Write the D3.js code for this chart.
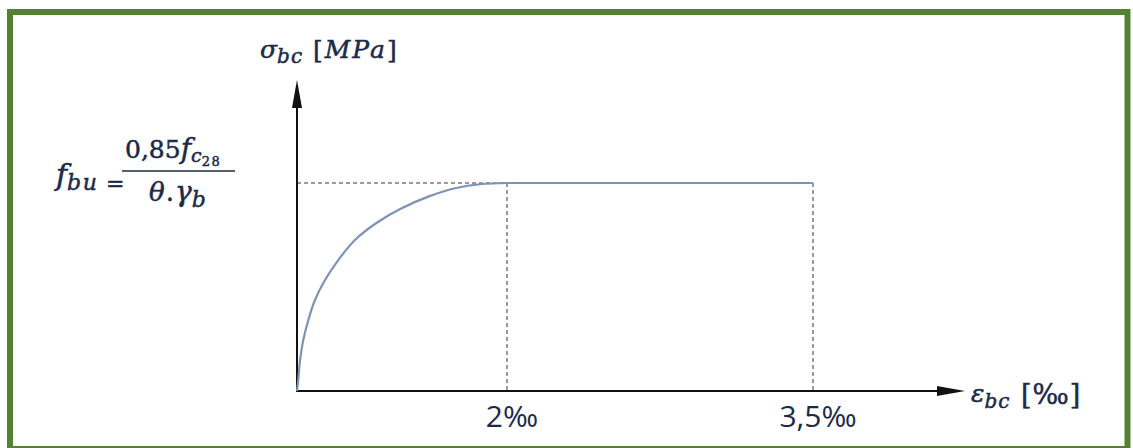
<!DOCTYPE html>
<html>
<head>
<meta charset="utf-8">
<script src="https://cdn.jsdelivr.net/npm/d3@7"></script>
<style>
  html, body { margin: 0; padding: 0; background: #fff; }
  svg { display: block; }
</style>
</head>
<body>
<div id="chart"></div>
<script>
// Parabola-rectangle diagram for concrete (sigma_bc vs epsilon_bc)

// strain values [per mille]
const strain = [0, 0.012, 0.029, 0.06, 0.108, 0.171, 0.267, 0.393, 0.552, 0.774, 0.997, 1.25, 1.505, 1.759, 2.0, 3.5];
// stress values [MPa], plateau = fbu
const stress = [0, 0.75, 2.11, 3.47, 4.84, 6.20, 7.56, 8.92, 10.29, 11.53, 12.45, 13.24, 13.81, 14.10, 14.17, 14.17];
const fbu = 14.17;
const peakStrain = 2.0;
const tickValues = [2, 3.5];
const tickLabels = ["2‰", "3,5‰"];

const width = 1133, height = 448;
const originX = 297, originY = 391;
const axisTop = 80, axisRight = 965;

const svg = d3.select("#chart").append("svg")
  .attr("width", width)
  .attr("height", height);

// green frame
svg.append("rect")
  .attr("x", 10).attr("y", 12)
  .attr("width", 1117.5).attr("height", 437)
  .attr("fill", "#fff")
  .attr("stroke", "#548235")
  .attr("stroke-width", 6);

// the diagram is not drawn to scale on x, so use a piecewise scale
const x = d3.scaleLinear()
  .domain([0, 2, 3.5])
  .range([originX, 507, 813]);

const y = d3.scaleLinear()
  .domain([0, fbu])
  .range([originY, 183]);

// dashed guides
const guide = svg.append("g")
  .attr("stroke", "#9a9a9a")
  .attr("stroke-width", 2)
  .attr("stroke-dasharray", "4,3")
  .attr("fill", "none");

guide.append("line")
  .attr("x1", x(0)).attr("x2", x(2))
  .attr("y1", y(fbu)).attr("y2", y(fbu));

guide.selectAll("line.v")
  .data(tickValues)
  .enter()
  .append("line")
  .attr("class", "v")
  .attr("x1", d => x(d)).attr("x2", d => x(d))
  .attr("y1", y(fbu)).attr("y2", y(0));

// axes
svg.append("line")
  .attr("x1", originX).attr("x2", originX)
  .attr("y1", originY + 1).attr("y2", axisTop + 20)
  .attr("stroke", "#111").attr("stroke-width", 2);

svg.append("line")
  .attr("x1", originX - 1).attr("x2", axisRight - 20)
  .attr("y1", originY).attr("y2", originY)
  .attr("stroke", "#111").attr("stroke-width", 2);

svg.append("path")
  .attr("d", `M${originX},${axisTop} L${originX - 5},${axisTop + 28} L${originX + 5},${axisTop + 28} Z`)
  .attr("fill", "#111");

svg.append("path")
  .attr("d", `M${axisRight},${originY} L${axisRight - 28},${originY - 5} L${axisRight - 28},${originY + 5} Z`)
  .attr("fill", "#111");

// stress-strain curve: curved branch up to the peak, then straight plateau
const pts = strain.map((e, i) => [e, stress[i]]);
const rising = pts.filter(d => d[0] <= peakStrain);
const plateau = pts.filter(d => d[0] >= peakStrain);

const curveLine = d3.line()
  .x(d => x(d[0]))
  .y(d => y(d[1]))
  .curve(d3.curveCatmullRom.alpha(0.5));

const flatLine = d3.line()
  .x(d => x(d[0]))
  .y(d => y(d[1]));

svg.append("path")
  .datum(rising)
  .attr("fill", "none")
  .attr("stroke", "#7d93b6")
  .attr("stroke-width", 2.2)
  .attr("d", curveLine);

svg.append("path")
  .datum(plateau)
  .attr("fill", "none")
  .attr("stroke", "#7d93b6")
  .attr("stroke-width", 2.2)
  .attr("d", flatLine);

const ink = "#1c2a48";
const serif = "'DejaVu Serif', serif";

// tick labels
svg.selectAll("text.tick")
  .data(tickValues)
  .enter()
  .append("text")
  .attr("class", "tick")
  .attr("x", d => x(d) + 5)
  .attr("y", 427)
  .attr("text-anchor", "middle")
  .attr("font-family", "'Open Sans', sans-serif")
  .attr("font-size", 30)
  .attr("fill", ink)
  .text((d, i) => tickLabels[i]);

// helper for math-like labels
function mathText(px, py, size) {
  return svg.append("text")
    .attr("x", px).attr("y", py)
    .attr("font-family", serif)
    .attr("font-size", size)
    .attr("fill", ink)
    .attr("stroke", ink)
    .attr("stroke-width", 0.5);
}

// y axis title: sigma_bc [MPa]
const yTitle = mathText(260, 58, 25);
yTitle.append("tspan").attr("font-style", "italic").text("σ");
yTitle.append("tspan").attr("font-style", "italic").attr("font-size", 20).attr("dy", 5).attr("letter-spacing", 1).text("bc");
const yUnit = mathText(313, 58, 25).attr("letter-spacing", 2);
yUnit.append("tspan").text("[");
yUnit.append("tspan").attr("font-style", "italic").text("MPa");
yUnit.append("tspan").text("]");

// x axis title: epsilon_bc [‰]
const xTitle = mathText(971, 402, 25);
xTitle.append("tspan").attr("font-style", "italic").text("ε");
xTitle.append("tspan").attr("font-style", "italic").attr("font-size", 20).attr("dy", 6).attr("letter-spacing", 1).text("bc");
mathText(1021, 404, 27).attr("letter-spacing", 1).text("[‰]");

// fbu formula on the left
const lhs = mathText(56, 185, 30);
lhs.append("tspan").attr("font-style", "italic").text("f");
lhs.append("tspan").attr("font-style", "italic").attr("font-size", 22).attr("dy", 5).attr("letter-spacing", 1.5).text("bu");
mathText(106, 191, 22).text("=");

svg.append("line")
  .attr("x1", 122).attr("x2", 235)
  .attr("y1", 171).attr("y2", 171)
  .attr("stroke", ink).attr("stroke-width", 1.6);

const num = mathText(125, 158, 25);
num.append("tspan").text("0,85");
num.append("tspan").attr("font-style", "italic").attr("font-size", 28).text("f");
num.append("tspan").attr("font-style", "italic").attr("font-size", 19).attr("dy", 4).text("c");
num.append("tspan").attr("font-size", 13).attr("dy", 4).attr("letter-spacing", 1.5).text("28");

const den = mathText(149, 201, 26);
den.append("tspan").attr("font-style", "italic").text("θ");
den.append("tspan").attr("dx", 1).text(".");
den.append("tspan").attr("font-style", "italic").attr("font-size", 28).attr("dx", 1).text("γ");
den.append("tspan").attr("font-style", "italic").attr("font-size", 22).attr("dy", 6).text("b");
</script>
</body>
</html>
